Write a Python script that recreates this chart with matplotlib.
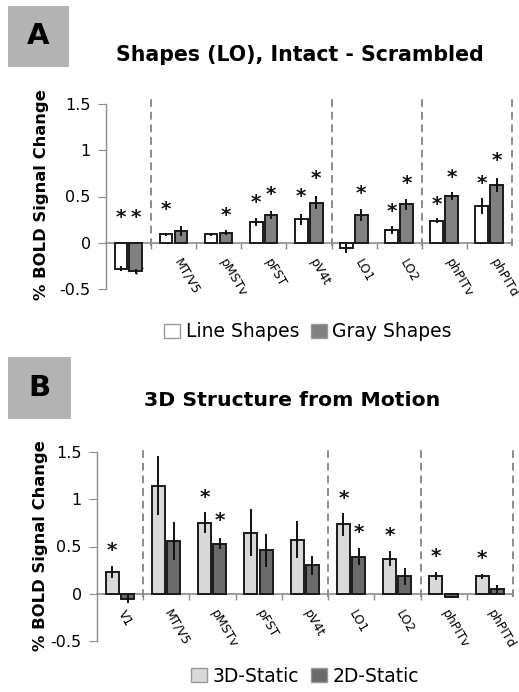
import numpy as np
import matplotlib
matplotlib.use("Agg")
import matplotlib.pyplot as plt
from matplotlib.patches import Patch, Rectangle

regions = ["V1", "MT/V5", "pMSTv", "pFST", "pV4t", "LO1", "LO2", "phPITv", "phPITd"]

# Panel A: Shapes (LO), Intact - Scrambled
line_shapes = [-0.28, 0.09, 0.09, 0.227, 0.256, -0.06, 0.14, 0.24, 0.40]
line_err = [0.03, 0.02, 0.02, 0.045, 0.06, 0.05, 0.045, 0.025, 0.087]
gray_shapes = [-0.31, 0.126, 0.11, 0.30, 0.433, 0.30, 0.415, 0.505, 0.625]
gray_err = [0.03, 0.05, 0.03, 0.04, 0.07, 0.07, 0.06, 0.045, 0.076]
line_star = [0.34, 0.43, None, 0.505, 0.57, None, 0.41, 0.48, 0.71]
gray_star = [0.34, None, 0.37, 0.59, 0.77, 0.60, 0.71, 0.78, 0.96]

# Panel B: 3D Structure from Motion
static3d = [0.232, 1.144, 0.75, 0.648, 0.574, 0.736, 0.373, 0.19, 0.183]
static3d_err = [0.065, 0.31, 0.11, 0.25, 0.20, 0.12, 0.08, 0.04, 0.03]
static2d = [-0.056, 0.56, 0.53, 0.458, 0.30, 0.39, 0.183, -0.03, 0.053]
static2d_err = [0.04, 0.20, 0.06, 0.17, 0.10, 0.09, 0.09, 0.01, 0.04]
star3d = [0.53, None, 1.09, None, None, 1.08, 0.687, 0.46, 0.44]
star2d = [None, None, 0.84, None, None, 0.72, None, None, None]

yticks = [-0.5, 0, 0.5, 1, 1.5]
ytick_labels = ["-0.5", "0", "0.5", "1", "1.5"]
dividers = [0.5, 4.5, 6.5, 8.5]

AXIS_GRAY = "#8c8c8c"
STAR_FS = 14.5

fig = plt.figure(figsize=(5.19, 6.92), dpi=100)


def draw_panel(ax, v1, e1, c1, v2, e2, c2, s1, s2, label_shift):
    x = np.arange(len(regions))
    w = 0.28
    o1, o2 = -0.17, 0.16
    ax.bar(x + o1, v1, w, color=c1, edgecolor="#1a1a1a", linewidth=1.4, zorder=3)
    ax.bar(x + o2, v2, w, color=c2, edgecolor="#1a1a1a", linewidth=1.4, zorder=3)
    ax.errorbar(x + o1, v1, yerr=e1, fmt="none", ecolor="#111111", elinewidth=1.4,
                capsize=0, zorder=4)
    ax.errorbar(x + o2, v2, yerr=e2, fmt="none", ecolor="#111111", elinewidth=1.4,
                capsize=0, zorder=4)
    for xs, stars in ((x + o1, s1), (x + o2, s2)):
        for xi, sy in zip(xs, stars):
            if sy is None:
                continue
            ax.annotate("*", (xi, sy), xytext=(0, -0.6 * STAR_FS),
                        textcoords="offset points", ha="center", va="baseline",
                        fontsize=STAR_FS, fontweight="bold", color="#111111",
                        zorder=5)
    for d in dividers:
        ax.plot([d, d], [-0.03, 1.56], ls=(0, (4, 2.5)), color=AXIS_GRAY, lw=1.4,
                clip_on=False, zorder=2)

    ax.set_xlim(-0.5, len(regions) - 0.5)
    ax.set_ylim(-0.5, 1.5)
    for s in ("top", "right"):
        ax.spines[s].set_visible(False)
    ax.spines["bottom"].set_position(("data", 0))
    ax.spines["bottom"].set_color(AXIS_GRAY)
    ax.spines["bottom"].set_linewidth(1.2)
    ax.spines["left"].set_color(AXIS_GRAY)
    ax.spines["left"].set_linewidth(1.0)

    ax.set_yticks(yticks)
    ax.set_yticklabels(ytick_labels)
    ax.tick_params(axis="y", length=6, color=AXIS_GRAY, labelsize=11.5, pad=5)

    ax.set_xticks(x - label_shift)
    ax.set_xticklabels(regions, rotation=-60, ha="left", va="top",
                       fontsize=9)
    ax.set_xticks(np.arange(0.5, len(regions) - 1, 1), minor=True)
    ax.tick_params(axis="x", which="major", length=0, pad=10)
    ax.tick_params(axis="x", which="minor", length=4, color=AXIS_GRAY, width=1.0)


axA = fig.add_axes([106 / 519, 1 - 289 / 692, 406 / 519, 185 / 692])
draw_panel(axA, line_shapes, line_err, "white", gray_shapes, gray_err, "#818181",
           line_star, gray_star, 0.04)

axB = fig.add_axes([97 / 519, 1 - 641 / 692, 416 / 519, 189 / 692])
draw_panel(axB, static3d, static3d_err, "#d9d9d9", static2d, static2d_err, "#6b6b6b",
           star3d, star2d, 0.1)

# Panel letters in gray boxes
for (x0, y0, x1, y1, letter) in ((8, 6, 69, 67, "A"), (8, 357, 71, 419, "B")):
    fig.patches.append(Rectangle((x0 / 519, 1 - y1 / 692), (x1 - x0) / 519,
                                 (y1 - y0) / 692, transform=fig.transFigure,
                                 facecolor="#b3b3b3", edgecolor="none"))
    fig.text((x0 + x1) / 2 / 519, 1 - (y0 + y1) / 2 / 692, letter,
             fontsize=21, fontweight="bold", ha="center", va="center")

# Titles
fig.text(299.5 / 519, 1 - 61 / 692, "Shapes (LO), Intact - Scrambled",
         fontsize=14.8, fontweight="bold", ha="center", va="baseline")
fig.text(292 / 519, 1 - 406 / 692, "3D Structure from Motion",
         fontsize=14.7, fontweight="bold", ha="center", va="baseline")

# Y-axis titles
fig.text(42 / 519, 1 - 195 / 692, "% BOLD Signal Change", rotation=90,
         fontsize=11.8, fontweight="bold", ha="center", va="center")
fig.text(41 / 519, 1 - 546 / 692, "% BOLD Signal Change", rotation=90,
         fontsize=11.8, fontweight="bold", ha="center", va="center")

# Legends
legA = [Patch(facecolor="white", edgecolor="#999999", label="Line Shapes"),
        Patch(facecolor="#818181", edgecolor="#999999", label="Gray Shapes")]
fig.legend(handles=legA, loc="center", bbox_to_anchor=(308 / 519, 1 - 332 / 692),
           ncol=2, frameon=False, fontsize=13.5, handlelength=0.85,
           handleheight=0.85, handletextpad=0.3, columnspacing=0.6)
legB = [Patch(facecolor="#d9d9d9", edgecolor="#999999", label="3D-Static"),
        Patch(facecolor="#6b6b6b", edgecolor="#999999", label="2D-Static")]
fig.legend(handles=legB, loc="center", bbox_to_anchor=(305 / 519, 1 - 676 / 692),
           ncol=2, frameon=False, fontsize=13.5, handlelength=0.85,
           handleheight=0.85, handletextpad=0.3, columnspacing=0.6)

fig.savefig("out.png", dpi=100)
